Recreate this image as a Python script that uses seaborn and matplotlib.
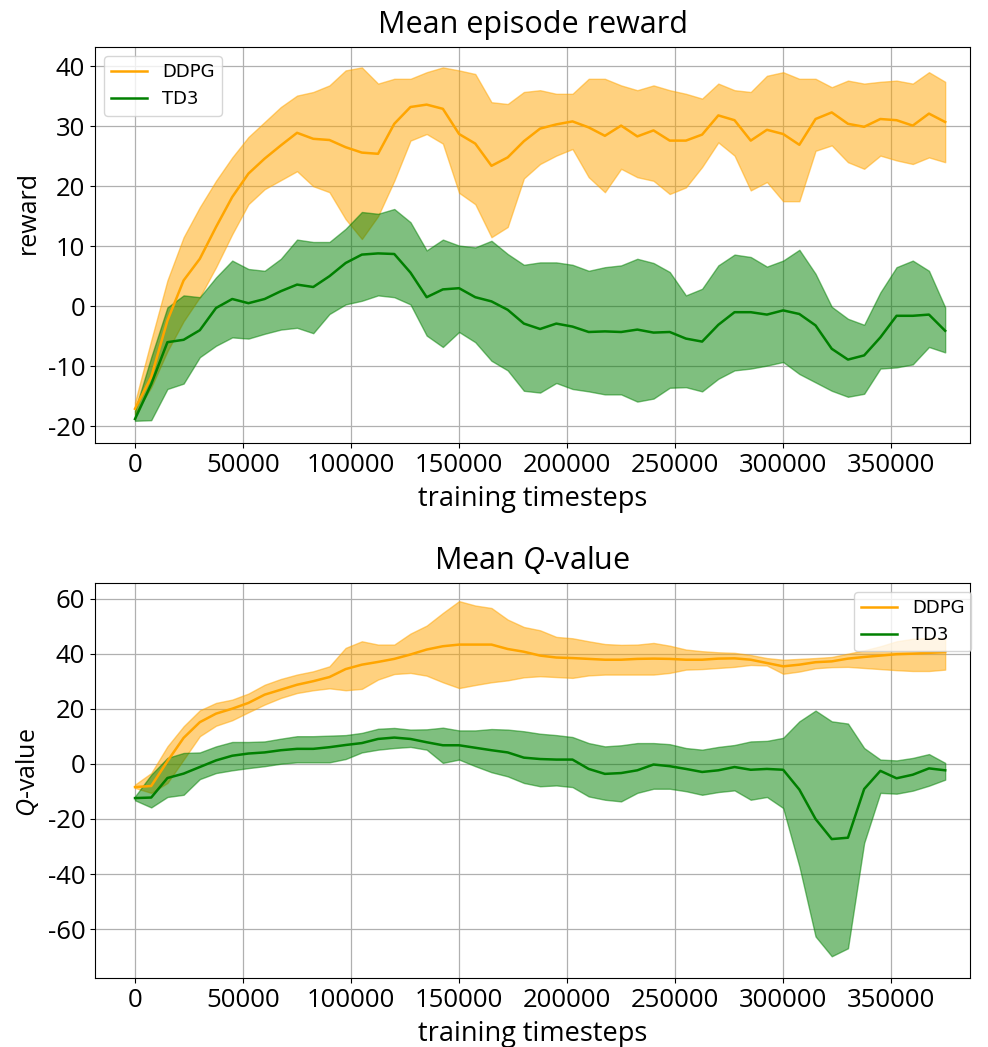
import numpy as np
import matplotlib
matplotlib.use("Agg")
import matplotlib.pyplot as plt
import seaborn as sns

plt.rcParams['font.family'] = ['Open Sans', 'DejaVu Sans']
plt.rcParams['mathtext.fontset'] = 'custom'
plt.rcParams['mathtext.rm'] = 'Open Sans'
plt.rcParams['mathtext.it'] = 'Open Sans:italic'
plt.rcParams['axes.unicode_minus'] = False

# training timesteps (sampled every 7500 steps)
timesteps = [0, 7500, 15000, 22500, 30000, 37500, 45000, 52500, 60000, 67500,
             75000, 82500, 90000, 97500, 105000, 112500, 120000, 127500, 135000, 142500,
             150000, 157500, 165000, 172500, 180000, 187500, 195000, 202500, 210000, 217500,
             225000, 232500, 240000, 247500, 255000, 262500, 270000, 277500, 285000, 292500,
             300000, 307500, 315000, 322500, 330000, 337500, 345000, 352500, 360000, 367500,
             375000]

# --- Mean episode reward ---
reward_ddpg_mean = [-17.1, -11.8, -2.4, 4.3, 7.9, 13.2, 18.2, 22.1, 24.6, 26.8,
                    28.9, 27.9, 27.7, 26.5, 25.6, 25.4, 30.4, 33.2, 33.6, 32.9,
                    28.7, 27.1, 23.4, 24.8, 27.5, 29.6, 30.3, 30.8, 29.8, 28.4,
                    30.1, 28.3, 29.3, 27.6, 27.6, 28.6, 31.8, 31.0, 27.6, 29.4,
                    28.7, 26.9, 31.2, 32.3, 30.4, 29.9, 31.2, 31.0, 30.1, 32.1,
                    30.7]
reward_ddpg_upper = [-16.0, -5.7, 4.3, 11.5, 16.5, 20.9, 24.8, 28.2, 30.7, 33.2,
                     35.1, 35.7, 36.8, 39.3, 39.8, 37.1, 37.9, 37.9, 39.0, 39.8,
                     39.3, 38.7, 34.0, 33.7, 35.7, 36.0, 35.4, 35.4, 37.9, 37.9,
                     36.8, 36.0, 36.8, 36.0, 35.4, 34.6, 37.1, 36.0, 35.7, 38.4,
                     39.0, 37.9, 37.9, 36.5, 37.6, 37.1, 37.4, 37.6, 37.1, 39.0,
                     37.4]
reward_ddpg_lower = [-18.0, -13.5, -7.5, -2.5, 1.5, 6.5, 12.0, 17.0, 19.5, 21.0,
                     22.5, 20.0, 19.0, 14.5, 11.2, 15.0, 20.9, 27.6, 28.7, 27.1,
                     18.9, 17.0, 11.5, 13.2, 21.3, 23.7, 25.1, 26.2, 21.5, 19.0,
                     22.9, 21.5, 20.9, 18.7, 19.8, 23.2, 27.3, 25.1, 19.3, 20.7,
                     17.5, 17.5, 25.9, 26.8, 24.0, 22.9, 25.1, 24.3, 23.7, 24.8,
                     24.0]
reward_td3_mean = [-18.8, -13.0, -6.0, -5.6, -4.0, -0.3, 1.2, 0.5, 1.2, 2.5,
                   3.6, 3.2, 5.0, 7.2, 8.6, 8.8, 8.7, 5.6, 1.5, 2.8,
                   3.0, 1.5, 0.8, -0.6, -2.9, -3.8, -2.9, -3.4, -4.3, -4.2,
                   -4.3, -3.9, -4.4, -4.3, -5.4, -5.9, -3.1, -1.0, -1.0, -1.4,
                   -0.7, -1.3, -3.2, -7.1, -8.9, -8.2, -5.2, -1.6, -1.6, -1.4,
                   -4.1]
reward_td3_upper = [-17.4, -8.5, -0.2, 1.8, 1.5, 4.8, 7.6, 6.2, 5.9, 7.9,
                    11.1, 10.7, 10.7, 12.9, 15.7, 15.4, 16.2, 14.0, 9.3, 11.1,
                    10.1, 9.8, 10.9, 8.7, 6.9, 7.3, 7.3, 6.9, 5.9, 6.5,
                    6.8, 7.9, 7.2, 5.7, 1.8, 2.9, 6.8, 8.6, 8.2, 6.6,
                    7.6, 9.4, 5.4, -0.1, -2.1, -3.1, 2.3, 6.5, 7.6, 5.9,
                    -0.2]
reward_td3_lower = [-19.1, -19.0, -13.8, -12.9, -8.5, -6.6, -5.2, -5.4, -4.6, -3.9,
                    -3.6, -4.5, -1.3, 0.3, 0.9, 1.8, 1.5, 0.3, -4.9, -6.8,
                    -4.3, -6.0, -9.1, -10.7, -14.1, -14.4, -12.8, -13.8, -14.2, -14.7,
                    -14.7, -15.9, -15.4, -13.6, -13.5, -14.2, -12.1, -10.7, -10.4, -9.9,
                    -9.3, -11.3, -12.7, -14.1, -15.1, -14.6, -10.4, -10.2, -9.7, -6.8,
                    -7.7]

# --- Mean Q-value ---
q_ddpg_mean = [-8.4, -8.0, 1.0, 9.5, 15.2, 18.3, 20.1, 22.2, 25.2, 27.0,
               28.8, 30.1, 31.6, 34.5, 36.1, 37.1, 38.2, 39.8, 41.6, 42.8,
               43.4, 43.4, 43.4, 41.8, 40.8, 39.4, 38.7, 38.5, 38.2, 37.9,
               37.9, 38.2, 38.3, 38.2, 37.9, 37.9, 38.3, 38.4, 37.9, 36.7,
               35.5, 36.1, 37.0, 37.3, 38.3, 38.9, 39.4, 39.9, 40.1, 40.4,
               40.7]
q_ddpg_upper = [-7.5, -3.3, 6.4, 13.7, 19.5, 22.2, 23.4, 25.6, 28.8, 30.9,
                32.5, 33.7, 35.5, 42.2, 44.6, 43.4, 43.4, 47.4, 50.3, 54.9,
                59.2, 57.6, 56.7, 52.5, 49.8, 48.6, 46.2, 45.7, 44.6, 43.6,
                43.3, 43.4, 44.0, 43.0, 41.6, 41.0, 40.6, 40.4, 39.6, 38.5,
                37.9, 38.2, 38.5, 38.9, 40.1, 41.3, 42.8, 44.6, 45.5, 45.8,
                45.8]
q_ddpg_lower = [-8.7, -10.5, -6.9, 1.6, 10.1, 13.9, 15.9, 18.8, 21.6, 24.0,
                25.8, 26.8, 27.5, 26.8, 27.3, 30.7, 32.7, 33.1, 32.1, 29.7,
                27.6, 28.7, 29.7, 30.4, 31.5, 31.9, 31.6, 31.3, 32.2, 32.5,
                32.5, 32.5, 32.5, 33.1, 34.3, 34.5, 34.9, 35.3, 36.0, 35.8,
                32.8, 33.6, 34.8, 35.2, 35.3, 34.9, 34.5, 34.1, 33.8, 33.8,
                34.3]
q_td3_mean = [-12.4, -12.2, -5.1, -3.5, -1.1, 1.3, 3.0, 3.8, 4.2, 5.0,
              5.5, 5.5, 6.1, 6.9, 7.6, 9.1, 9.6, 9.1, 7.9, 6.8,
              6.8, 5.9, 5.0, 4.2, 2.3, 1.8, 1.6, 1.6, -1.8, -3.6,
              -3.3, -2.3, -0.2, -0.8, -1.8, -2.9, -2.3, -1.1, -2.1, -1.8,
              -2.1, -9.3, -20.0, -27.3, -26.8, -9.1, -2.5, -5.2, -3.9, -1.6,
              -2.3]
q_td3_upper = [-11.8, -3.9, 2.2, 4.0, 4.2, 6.4, 8.0, 8.0, 8.2, 9.2,
               10.1, 10.1, 10.3, 10.5, 11.3, 12.8, 13.1, 12.5, 12.6, 13.2,
               12.2, 12.2, 12.7, 12.5, 11.9, 11.0, 10.5, 9.8, 7.6, 6.4,
               6.8, 7.6, 7.6, 7.2, 5.8, 5.2, 6.2, 6.9, 8.2, 8.4,
               9.5, 15.5, 19.4, 15.5, 14.7, 5.8, 1.6, 1.3, 2.2, 3.6,
               0.4]
q_td3_lower = [-13.2, -15.8, -12.0, -11.2, -5.5, -3.3, -2.3, -1.5, -0.8, 0.1,
               0.6, 0.6, 0.6, 1.8, 4.2, 5.2, 5.8, 6.2, 5.2, 0.4,
               1.6, -0.8, -3.0, -4.5, -6.9, -8.1, -7.8, -8.4, -11.8, -13.0,
               -13.6, -10.5, -9.0, -9.0, -9.9, -11.2, -10.2, -9.6, -13.0, -12.0,
               -16.0, -37.2, -62.7, -69.9, -67.0, -28.7, -10.5, -10.8, -9.7, -7.9,
               -5.7]

panels = [
    ("Mean episode reward", "reward",
     [("DDPG", "orange", reward_ddpg_mean, reward_ddpg_lower, reward_ddpg_upper),
      ("TD3", "green", reward_td3_mean, reward_td3_lower, reward_td3_upper)],
     (-22.8, 43.2), [-20, -10, 0, 10, 20, 30, 40],
     dict(loc="upper left"), 0.583),
    ("Mean $Q$-value", "$Q$-value",
     [("DDPG", "orange", q_ddpg_mean, q_ddpg_lower, q_ddpg_upper),
      ("TD3", "green", q_td3_mean, q_td3_lower, q_td3_upper)],
     (-77.8, 65.8), [-60, -40, -20, 0, 20, 40, 60],
     dict(loc="upper right", bbox_to_anchor=(1.012, 1.0)), 0.52),
]

fig = plt.figure(figsize=(9.88, 10.47), dpi=100)
ax_top = fig.add_axes([0.0962, 0.5769, 0.8856, 0.3782])
ax_bot = fig.add_axes([0.0962, 0.0659, 0.8856, 0.3773])

for ax, (title, ylabel, series, ylim, yticks, leg, ylab_y) in zip([ax_top, ax_bot], panels):
    for name, col, mean, lo, hi in series:
        ax.fill_between(timesteps, lo, hi, color=col, alpha=0.5)
    for name, col, mean, lo, hi in series:
        sns.lineplot(x=timesteps, y=mean, color=col, label=name, ax=ax,
                     linewidth=1.8, solid_joinstyle="round")
    ax.set_xlim(-18500, 386500)
    ax.set_ylim(*ylim)
    ax.set_xticks([0, 50000, 100000, 150000, 200000, 250000, 300000, 350000])
    ax.set_yticks(yticks)
    ax.grid(True, color="#b0b0b0", linewidth=0.9)
    ax.set_axisbelow(True)
    ax.tick_params(labelsize=18.5)
    ax.set_title(title, fontsize=22, pad=10)
    ax.set_ylabel(ylabel, fontsize=18)
    ax.yaxis.set_label_coords(-0.062, ylab_y)
    ax.set_xlabel("training timesteps", fontsize=19.5, labelpad=5)
    ax.legend(prop={"family": "DejaVu Sans", "size": 13}, **leg)

fig.savefig("out.png", dpi=100)
